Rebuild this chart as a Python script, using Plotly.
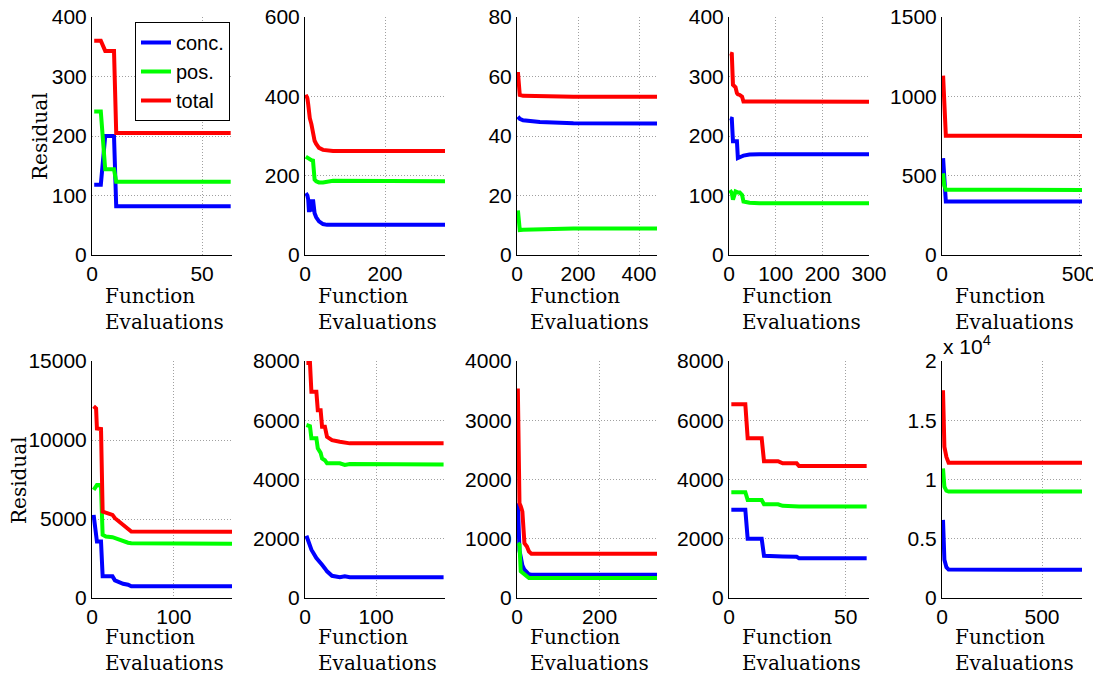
import plotly.graph_objects as go

# Page is 1101x675; the browser body adds an 8px margin, so positions are offset by 8px
PAGE_W, PAGE_H = 1101, 675
OFF = 8
W, H = PAGE_W - OFF, PAGE_H - OFF

# ---------------- data (function evaluations vs residuals) ----------------
evals_1 = [1, 4, 6, 10, 11, 63]
conc_1 = [118, 118, 200, 200, 82, 82]
pos_1 = [241, 241, 144, 144, 123, 123]
total_1 = [360, 360, 343, 343, 205, 205]

evals_2 = [2, 6, 8, 10, 12, 16, 20, 24, 28, 35, 45, 55, 70, 350]
conc_2 = [156, 150, 140, 108, 140, 110, 140, 105, 95, 85, 78, 76, 76, 76]
pos_2 = [248, 245, 243, 242, 240, 239, 238, 190, 186, 183, 183, 185, 187, 186]
total_2 = [404, 395, 380, 360, 345, 330, 300, 288, 280, 270, 265, 263, 262, 262]

evals_3 = [3, 9, 20, 75, 185, 460]
conc_3 = [46.5, 45.8, 45.3, 44.7, 44.3, 44.2]
pos_3 = [15, 8.4, 8.5, 8.7, 8.9, 8.9]
total_3 = [61.5, 53.8, 53.5, 53.3, 53.2, 53.2]

evals_4 = [2, 6, 8.5, 14, 17, 19, 23, 28, 31, 44, 65, 300]
conc_4 = [230, 229, 191, 191, 191, 163, 165, 166, 167, 169, 169.5, 169.5]
pos_4 = [109, 104, 93, 107, 106, 105, 105, 101, 90, 88, 87, 87]
total_4 = [339, 338, 286, 282, 272, 270, 269, 266, 258, 258, 257.5, 257.5]

evals_5 = [4, 8, 14, 510]
conc_5 = [610, 450, 337, 337]
pos_5 = [515, 440, 412, 410]
total_5 = [1130, 1000, 752, 750]

evals_6 = [2, 5, 6, 9, 11, 13, 17, 25, 28, 33, 38, 44, 48, 171]
conc_6 = [5260, 3600, 3580, 3580, 3580, 1370, 1370, 1370, 1115, 990, 900, 840, 740, 740]
pos_6 = [6840, 7100, 7150, 7150, 7000, 4000, 3890, 3850, 3790, 3680, 3580, 3500, 3470, 3430]
total_6 = [12140, 12000, 10730, 10730, 10700, 5470, 5400, 5260, 5050, 4840, 4630, 4420, 4210, 4200]

evals_7 = [2, 7, 9, 16, 18, 22, 24, 28, 31, 38, 49, 56, 63, 195]
conc_7 = [2100, 1800, 1630, 1350, 1300, 1200, 1120, 1000, 900, 750, 700, 730, 700, 700]
pos_7 = [5840, 5800, 5390, 5390, 5050, 4900, 4710, 4650, 4545, 4545, 4545, 4490, 4520, 4510]
total_7 = [7935, 7935, 6960, 6960, 6340, 6340, 5780, 5780, 5440, 5330, 5275, 5240, 5220, 5220]

evals_8 = [2, 6, 9, 13, 18, 24, 29, 35, 339]
conc_8 = [1600, 800, 700, 550, 477, 420, 400, 393, 393]
pos_8 = [925, 900, 450, 430, 395, 370, 336, 336, 336]
total_8 = [3535, 1600, 1550, 1460, 925, 870, 785, 745, 745]

evals_9 = [1, 7, 8, 14, 15, 21, 23, 29, 30, 59]
conc_9 = [2975, 2975, 2000, 2000, 1425, 1425, 1400, 1390, 1345, 1345]
pos_9 = [3570, 3570, 3310, 3310, 3165, 3165, 3110, 3100, 3085, 3085]
total_9 = [6540, 6540, 5390, 5390, 4620, 4620, 4545, 4545, 4455, 4455]

evals_10 = [5, 12, 22, 33, 700]
conc_10 = [6590, 3230, 2600, 2400, 2380]
pos_10 = [10940, 9400, 9050, 8980, 8980]
total_10 = [17530, 12760, 11900, 11420, 11420]

series_names = ["conc.", "pos.", "total"]
series_colors = ["#0000ff", "#00ff00", "#ff0000"]

x_ranges = [63.6, 350, 459, 300, 510, 171, 197, 339, 60, 700]
x_dticks = [50, 200, 200, 100, 500, 100, 100, 200, 50, 500]
y_ranges = [400, 600, 80, 400, 1500, 15000, 8000, 4000, 8000, 20000]
y_dticks = [100, 200, 20, 100, 500, 5000, 2000, 1000, 2000, 5000]
y_ticks_10 = [0, 5000, 10000, 15000, 20000]
y_ticklabels_10 = ["0", "0.5", "1", "1.5", "2"]

x_title = "Function<br>Evaluations"
y_title = "Residual"
exp_label = "x 10<sup>4</sup>"

panels = [
    (evals_1, conc_1, pos_1, total_1), (evals_2, conc_2, pos_2, total_2),
    (evals_3, conc_3, pos_3, total_3), (evals_4, conc_4, pos_4, total_4),
    (evals_5, conc_5, pos_5, total_5), (evals_6, conc_6, pos_6, total_6),
    (evals_7, conc_7, pos_7, total_7), (evals_8, conc_8, pos_8, total_8),
    (evals_9, conc_9, pos_9, total_9), (evals_10, conc_10, pos_10, total_10),
]

# ---------------- layout geometry (page pixels) ----------------
col_left = [92, 305, 517, 729, 942]
panel_w = 140
row_top = [17, 361]
row_bot = [255, 598]


def px(xp):
    return (xp - OFF) / W


def py(yp):
    return 1 - (yp - OFF) / H


SANS = "Liberation Sans, Arial, Helvetica, sans-serif"
SERIF = "DejaVu Serif, serif"
GRID = "#a0a0a0"

fig = go.Figure()
layout = {}
annotations = []

for i, (ev, c, p, t) in enumerate(panels):
    r, col = divmod(i, 5)
    k = i + 1
    xa = "x" if k == 1 else f"x{k}"
    ya = "y" if k == 1 else f"y{k}"
    for name, color, vals in zip(series_names, series_colors, (c, p, t)):
        fig.add_trace(go.Scatter(
            x=ev, y=vals, mode="lines", name=name,
            line=dict(color=color, width=4),
            xaxis=xa, yaxis=ya, showlegend=(i == 0),
        ))
    left = col_left[col]
    xkey = "xaxis" if k == 1 else f"xaxis{k}"
    ykey = "yaxis" if k == 1 else f"yaxis{k}"
    common = dict(
        showgrid=True, gridcolor=GRID, griddash="1px,2px", gridwidth=1,
        zeroline=False, showline=True, linecolor="black", linewidth=1,
        ticks="", automargin=False, tick0=0, ticklabeloverflow="allow",
        tickfont=dict(family=SANS, size=21, color="black"),
    )
    layout[xkey] = dict(
        domain=[px(left), px(left + panel_w)], anchor=ya,
        range=[0, x_ranges[i]], autorange=False, dtick=x_dticks[i],
        tickformat="d", **common,
    )
    ydict = dict(
        domain=[py(row_bot[r]), py(row_top[r])], anchor=xa,
        range=[0, y_ranges[i]], autorange=False, dtick=y_dticks[i], **common,
    )
    if k == 10:
        ydict.update(tickmode="array", tickvals=y_ticks_10, ticktext=y_ticklabels_10)
    else:
        ydict["tickformat"] = "d"
    layout[ykey] = ydict

    # x-axis title (two lines, left aligned)
    annotations.append(dict(
        text=x_title, xref="paper", yref="paper",
        x=px(left + 11), y=py(row_bot[r] + 27 - r * 2),
        xanchor="left", yanchor="top", align="left", showarrow=False,
        font=dict(family=SERIF, size=20, color="black"),
    ))

# y titles
annotations.append(dict(text=y_title, xref="paper", yref="paper",
                        x=px(40), y=py(136), textangle=-90, showarrow=False,
                        xanchor="center", yanchor="middle",
                        font=dict(family=SERIF, size=20, color="black")))
annotations.append(dict(text=y_title, xref="paper", yref="paper",
                        x=px(19), y=py(480), textangle=-90, showarrow=False,
                        xanchor="center", yanchor="middle",
                        font=dict(family=SERIF, size=20, color="black")))
# exponent label
annotations.append(dict(text=exp_label, xref="paper", yref="paper",
                        x=px(941), y=py(360), xanchor="left", yanchor="bottom",
                        showarrow=False,
                        font=dict(family=SANS, size=21, color="black")))

fig.update_layout(
    **layout,
    annotations=annotations,
    width=W, height=H,
    margin=dict(l=0, r=0, t=0, b=0, autoexpand=False),
    paper_bgcolor="white", plot_bgcolor="white",
    legend=dict(x=px(135), y=py(22), xanchor="left", yanchor="top",
                bgcolor="white", bordercolor="black", borderwidth=1,
                font=dict(family=SANS, size=20, color="black"),
                tracegroupgap=0, itemwidth=30),
)

fig.write_html("out.html")
